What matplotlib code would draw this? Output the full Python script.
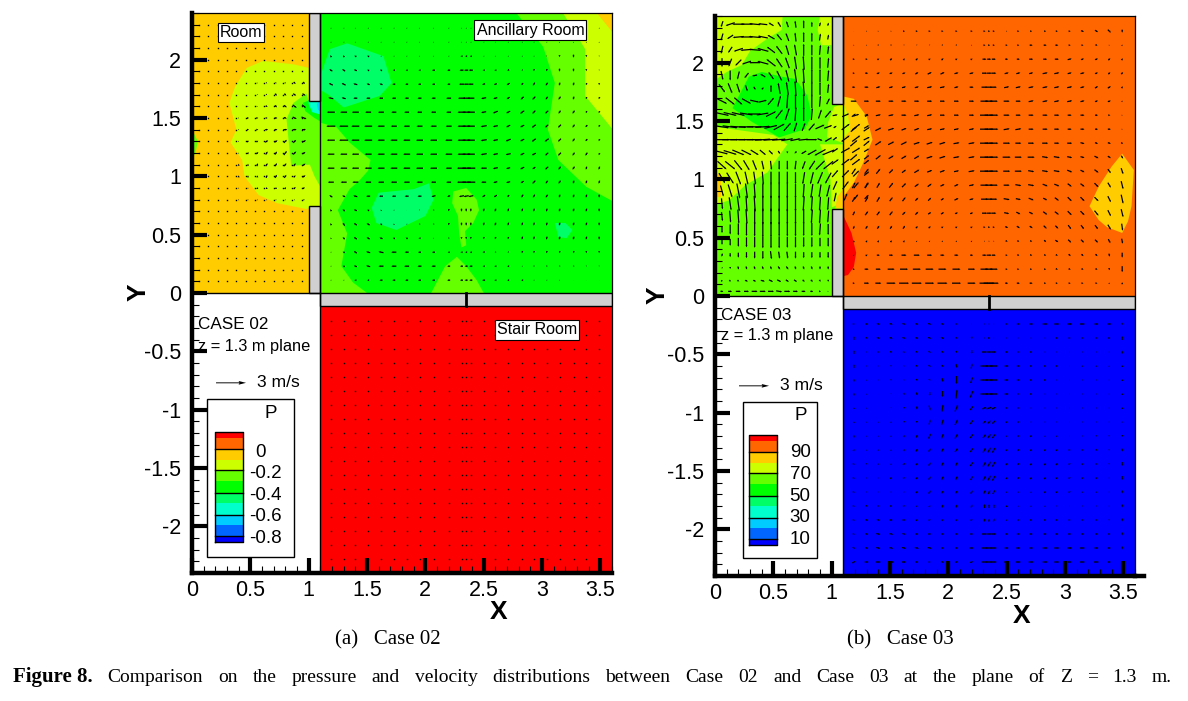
import matplotlib as mpl

mpl.use("Agg")
import matplotlib.pyplot as plt
import numpy as np

plt.rcParams['font.family'] = 'Liberation Sans'
plt.rcParams['axes.unicode_minus'] = False

# tecplot contour bands, low to high
bands = ['#0000ff', '#0066ff', '#00ccff', '#00ffcc', '#00ff66', '#00ff00',
         '#66ff00', '#ccff00', '#ffcc00', '#ff6600', '#ff0000']
band_edges = [-2.13, -2.085, -1.99, -1.90, -1.80, -1.71, -1.615, -1.52, -1.43, -1.335, -1.24, -1.195]

labels_02 = ['0', '-0.2', '-0.4', '-0.6', '-0.8']
labels_03 = ['90', '70', '50', '30', '10']

# velocity grids (arrows, 0.1 m/s units)
x_big = [1.19, 1.30, 1.40, 1.51, 1.62, 1.73, 1.84, 1.95, 2.07, 2.20, 2.31, 2.35, 2.39,
         2.50, 2.60, 2.71, 2.83, 2.93, 3.04, 3.15, 3.27, 3.38, 3.49]
y_anc = [2.27, 2.15, 2.03, 1.91, 1.79, 1.67, 1.55, 1.43, 1.31, 1.19, 1.07, 0.95, 0.83, 0.71, 0.59, 0.47, 0.35, 0.23, 0.11]
y_stair = [-0.24, -0.36, -0.48, -0.60, -0.72, -0.84, -0.96, -1.08, -1.20, -1.32, -1.44, -1.56, -1.68, -1.80, -1.92, -2.04, -2.16, -2.28]

anc02_u = [
    [-1, -1, -1, -1, -1, -1, -1, -1, -1, -1, -1, -1, -1, -1, -1, -1, -1, -1, -1, -1, -1, -1, -1],
    [-1, -1, -1, -1, -1, -1, -1, -1, -1, -1, -1, -1, -1, -1, -1, -1, -1, -1, -1, 0, 0, 0, 0],
    [-1, -1, -2, -2, -1, -1, -1, -1, -1, -1, -2, -2, -2, -1, -1, -1, -1, -1, 0, 0, 0, 0, 0],
    [-3, -3, -3, -2, -2, -2, -2, -2, -3, -3, -4, -4, -4, -2, -2, -2, -1, -1, -1, 0, 0, 0, 0],
    [-4, -4, -4, -3, -3, -3, -3, -3, -3, -3, -5, -5, -5, -3, -3, -3, -2, -2, -2, -1, -1, -1, 0],
    [-5, -4, -4, -4, -4, -4, -4, -4, -4, -5, -7, -7, -7, -5, -4, -3, -3, -3, -2, -2, -1, -1, -1],
    [-8, -7, -7, -6, -6, -5, -5, -5, -5, -5, -8, -8, -8, -5, -5, -4, -4, -3, -3, -2, -2, -1, -1],
    [-9, -9, -8, -8, -7, -6, -6, -6, -6, -6, -8, -8, -8, -6, -5, -4, -4, -4, -3, -3, -2, -2, -1],
    [-8, -9, -8, -8, -7, -7, -7, -7, -7, -7, -8, -8, -8, -6, -5, -5, -4, -4, -4, -3, -2, -2, -1],
    [-7, -7, -7, -7, -7, -7, -7, -7, -7, -7, -8, -8, -8, -6, -5, -5, -4, -4, -3, -3, -2, -2, -1],
    [-7, -7, -7, -7, -7, -7, -7, -7, -7, -6, -9, -9, -9, -6, -5, -4, -4, -3, -3, -2, -2, -1, -1],
    [-6, -6, -6, -6, -6, -6, -6, -6, -5, -5, -9, -9, -9, -5, -4, -4, -3, -3, -2, -2, -1, -1, -1],
    [-3, -3, -4, -4, -4, -4, -4, -4, -4, -3, -5, -5, -5, -3, -3, -2, -2, -2, -2, -1, -1, -1, 0],
    [-1, -2, -3, -2, -1, -1, 0, 0, -1, -1, 0, 0, 0, -1, -1, -1, -1, -1, -1, -1, -1, -1, 0],
    [-1, -2, -3, -3, -2, -1, -1, -1, -1, -1, 0, 0, 0, -1, -1, -1, -1, -1, -1, -1, -1, -1, 0],
    [-1, -2, -3, -3, -3, -2, -2, -2, -1, -1, 0, 0, 0, -1, -1, -1, -1, -1, -1, -1, -1, -1, 0],
    [-1, -2, -3, -4, -5, -5, -4, -3, -3, -2, -2, -2, -2, -2, -1, -1, -1, -1, -1, -1, -1, 0, 0],
    [-1, -2, -3, -4, -5, -5, -5, -4, -4, -3, -3, -3, -3, -2, -2, -2, -1, -1, -1, -1, -1, 0, 0],
    [-1, -1, -2, -2, -3, -3, -3, -3, -3, -3, -3, -3, -3, -3, -2, -2, -2, -1, -1, -1, 0, 0, 0],
]
anc02_v = [
    [0, 0, 0, 0, 0, 0, 0, 0, 0, 0, 0, 0, 0, 0, 0, 0, 0, 0, 0, 0, 0, 0, 0],
    [0, 0, 0, 0, 0, 0, 0, 0, 0, 0, 0, 0, 0, 0, 0, 0, 0, 0, 0, 1, 1, 1, 1],
    [2, 2, 1, 1, 0, 0, 0, 0, 0, 0, 0, 0, 0, 0, 0, 0, 0, 0, -1, -2, -3, -2, -1],
    [2, 2, 1, 1, 1, 0, 0, 0, 0, 0, 0, 0, 0, 0, 0, -1, -1, -2, -2, -3, -3, -2, -1],
    [2, 2, 1, 1, 1, 0, 0, 0, 0, 0, 0, 0, 0, -1, -1, -2, -2, -3, -3, -3, -3, -2, -2],
    [1, 1, 0, 0, 0, 0, 0, 0, 0, 0, 0, 0, 0, -1, -1, -2, -3, -3, -3, -3, -3, -2, -2],
    [0, 0, 0, 0, 0, 0, 0, 0, 0, 0, 0, 0, 0, -1, -2, -2, -3, -3, -3, -3, -3, -2, -2],
    [0, 0, 0, 0, 0, 0, 0, 0, 0, 0, 0, 0, 0, -1, -1, -2, -2, -3, -3, -3, -3, -2, -2],
    [0, 0, 0, 0, 0, 0, 0, 0, 0, 0, 0, 0, 0, -1, -1, -2, -2, -3, -3, -3, -3, -2, -2],
    [0, 0, 0, 0, 0, 0, 0, 0, 0, 0, 0, 0, 0, -1, -1, -1, -2, -2, -3, -3, -3, -3, -2],
    [0, 0, 0, 0, 0, 0, 0, 0, 0, 0, 0, 0, 0, 0, -1, -1, -2, -2, -3, -3, -3, -3, -3],
    [0, 0, 0, 0, 0, 0, 0, 0, 0, 0, 0, 0, 0, 0, -1, -1, -2, -3, -3, -3, -3, -3, -3],
    [2, 1, 1, 0, 0, 0, 0, 0, -1, -1, -1, -1, -1, -2, -2, -2, -3, -3, -3, -3, -3, -3, -3],
    [2, 2, 1, 1, 1, 0, 0, -1, -1, -2, -3, -3, -3, -3, -3, -3, -3, -3, -3, -3, -3, -3, -3],
    [2, 3, 2, 2, 1, 1, 0, -1, -1, -2, -3, -3, -3, -3, -3, -3, -3, -3, -3, -3, -3, -3, -3],
    [1, 2, 2, 2, 1, 1, 1, 0, 0, -1, -2, -2, -2, -2, -2, -2, -3, -3, -3, -3, -3, -3, -3],
    [0, 1, 2, 1, 1, 0, 0, 0, 0, 0, 0, 0, 0, -1, -1, -1, -2, -2, -2, -2, -2, -2, -2],
    [0, 1, 1, 1, 0, 0, 0, 0, 0, 0, 0, 0, 0, 0, 0, 0, 0, -1, -1, -1, -1, -1, -1],
    [0, 0, 0, 0, 0, 0, 0, 0, 0, 0, 0, 0, 0, 0, 0, 0, 0, 0, 0, 0, 0, 0, 0],
]

anc03_u = [
    [0, 1, 1, 1, 2, 2, 2, 2, 2, 2, 2, 2, 2, 1, 2, 2, 2, 2, 2, 3, 3, 3, 0],
    [1, 1, 1, 1, 0, 0, 0, 1, 1, 1, 2, 2, 2, 2, 2, 3, 3, 3, 2, 2, 2, 1, 1],
    [2, 2, 2, 2, 1, 2, 2, 2, 2, 2, 4, 4, 4, 3, 3, 4, 4, 4, 4, 3, 3, 2, 1],
    [2, 3, 3, 3, 3, 3, 4, 4, 4, 4, 5, 5, 5, 4, 4, 4, 5, 5, 4, 4, 3, 2, 2],
    [3, 4, 4, 4, 4, 4, 5, 5, 4, 4, 6, 6, 6, 5, 5, 5, 5, 5, 5, 4, 3, 3, 1],
    [6, 5, 5, 5, 5, 5, 5, 5, 5, 5, 8, 8, 8, 6, 5, 5, 5, 5, 5, 4, 3, 3, 1],
    [4, 3, 5, 5, 5, 5, 5, 5, 5, 5, 9, 9, 9, 6, 5, 5, 5, 5, 4, 4, 3, 2, 1],
    [6, 6, 6, 6, 5, 5, 5, 5, 5, 5, 9, 9, 9, 6, 6, 5, 5, 5, 4, 4, 3, 3, 1],
    [7, 6, 6, 6, 6, 6, 6, 6, 6, 6, 9, 9, 9, 7, 6, 6, 6, 5, 5, 4, 3, 3, 2],
    [7, 5, 5, 5, 5, 5, 6, 6, 6, 6, 9, 9, 9, 8, 7, 7, 6, 6, 5, 4, 4, 3, 2],
    [4, 4, 4, 4, 4, 5, 5, 5, 5, 6, 9, 9, 9, 7, 7, 6, 6, 6, 5, 4, 4, 3, 2],
    [3, 3, 3, 4, 4, 4, 4, 4, 4, 5, 8, 8, 8, 6, 6, 6, 5, 5, 4, 4, 4, 3, 2],
    [3, 3, 3, 3, 3, 3, 3, 3, 4, 4, 7, 7, 7, 6, 5, 5, 4, 4, 4, 4, 4, 3, 2],
    [2, 3, 3, 3, 3, 3, 3, 3, 3, 3, 5, 5, 5, 5, 4, 4, 4, 4, 4, 4, 4, 3, 2],
    [1, 2, 2, 2, 2, 2, 2, 2, 2, 2, 2, 2, 2, 3, 3, 3, 3, 3, 3, 3, 3, 3, 1],
    [0, 1, 1, 1, 1, 1, 1, 1, 1, 1, 1, 1, 1, 2, 2, 2, 2, 3, 3, 3, 3, 2, 1],
    [1, 2, 3, 4, 5, 6, 5, 4, 4, 3, 4, 5, 4, 2, 2, 2, 2, 2, 2, 2, 2, 1, 0],
    [2, 4, 5, 7, 8, 8, 8, 8, 8, 7, 8, 8, 8, 2, 2, 2, 2, 2, 2, 2, 2, 1, 0],
    [2, 5, 6, 9, 10, 10, 9, 10, 9, 8, 10, 11, 10, 3, 3, 3, 2, 2, 2, 2, 2, 1, 0],
]
anc03_v = [
    [0, 0, 0, 0, 0, 0, 0, 0, 0, 0, 0, 0, 0, 0, 0, 0, 0, 0, 0, -1, -2, -3, -3],
    [0, 0, -1, -1, -1, -1, -1, -1, -1, 0, 0, 0, 0, 0, 0, 0, 0, 0, 0, 0, -1, 0, 1],
    [0, 0, 1, 2, 2, 2, 1, 2, 1, 1, 0, 0, 0, 0, 0, 0, 0, 0, 1, 1, 1, 2, 2],
    [0, 0, 1, 1, 1, 2, 2, 2, 1, 1, 0, 0, 0, 1, 1, 1, 1, 1, 1, 1, 1, 2, 2],
    [0, 0, 1, 1, 1, 1, 1, 1, 1, 0, 0, 0, 0, 1, 1, 1, 1, 1, 1, 1, 2, 2, 2],
    [0, 0, 0, 0, 0, 0, 0, 0, 0, 0, 0, 0, 0, 0, 0, 1, 1, 1, 1, 1, 1, 1, 1],
    [3, 3, 1, 1, 0, 1, 1, 0, 0, 0, 0, 0, 0, 0, 0, 0, 0, 0, 0, 0, 0, 0, 0],
    [5, 4, 3, 2, 2, 2, 1, 1, 1, 1, 0, 0, 0, 1, 1, 0, 0, 0, 0, 0, 0, 0, 0],
    [6, 5, 4, 3, 3, 2, 2, 2, 1, 1, 0, 0, 0, 0, 0, 0, 0, 0, 0, -1, -1, -1, -1],
    [6, 4, 4, 3, 3, 3, 2, 2, 1, 1, 0, 0, 0, 0, 0, 0, -1, -1, -1, -1, -2, -2, -3],
    [6, 5, 5, 4, 3, 3, 2, 2, 1, 1, 0, 0, 0, 0, 0, -1, -1, -1, -2, -2, -3, -4, -6],
    [6, 6, 5, 5, 4, 3, 3, 2, 2, 1, 0, 0, 0, 0, -1, -1, -2, -2, -3, -3, -4, -5, -8],
    [5, 5, 5, 4, 4, 3, 3, 2, 2, 1, 0, 0, 0, -1, -1, -2, -2, -3, -4, -4, -4, -6, -9],
    [4, 4, 4, 4, 3, 3, 2, 2, 1, 1, 0, 0, 0, -1, -2, -2, -3, -3, -4, -4, -5, -6, -8],
    [3, 3, 3, 3, 3, 2, 2, 1, 1, 1, 0, 0, 0, -1, -2, -2, -3, -3, -4, -4, -4, -5, -7],
    [2, 2, 2, 2, 2, 1, 1, 1, 1, 1, 0, 0, 0, -1, -1, -1, -2, -2, -3, -3, -3, -4, -5],
    [1, 1, 0, 0, 0, 0, 0, 0, 0, 0, 0, 0, 0, 0, -1, -1, -1, -1, -2, -2, -2, -3, -5],
    [0, 0, 0, 0, 0, 0, 0, 0, 0, 0, 0, 0, 0, 0, 0, 0, 0, -1, -1, -1, -1, -2, -6],
    [0, 0, 0, 0, 0, 0, 0, 0, 0, 0, 0, 0, 0, 0, 0, 0, 0, 0, 0, 0, 0, 1, 2],
]

stair03_u = [
    [2, 3, 3, 3, 3, 3, 3, 3, 2, 1, 1, 1, 1, 2, 3, 4, 5, 5, 5, 5, 4, 4, 1],
    [0, 2, 3, 3, 3, 3, 3, 3, 2, 0, 1, 2, 1, 1, 1, 1, 1, 2, 2, 2, 2, 2, 0],
    [0, 1, 2, 2, 2, 2, 2, 2, 1, 0, 5, 5, 5, 3, 2, 2, 1, 1, 1, 1, 1, 1, 0],
    [0, 1, 1, 1, 1, 2, 2, 2, 1, 1, 8, 8, 8, 4, 3, 2, 2, 2, 1, 1, 1, 1, 0],
    [0, 0, 1, 1, 1, 1, 1, 1, 0, 2, 8, 8, 8, 4, 3, 2, 2, 1, 1, 1, 1, 1, 0],
    [0, 0, 0, 0, 1, 1, 0, 0, 1, 3, 8, 8, 8, 4, 2, 2, 1, 1, 1, 1, 1, 1, 0],
    [0, 0, 0, 0, 0, 0, 1, 1, 3, 3, 4, 5, 4, 2, 2, 1, 1, 1, 1, 1, 1, 1, 0],
    [0, 0, 0, 1, 0, 0, 1, 2, 3, 3, 3, 3, 3, 2, 2, 1, 1, 1, 1, 1, 1, 1, 1],
    [0, 0, 0, 1, 1, 1, 2, 2, 3, 3, 3, 3, 3, 1, 2, 2, 1, 1, 1, 1, 1, 1, 0],
    [1, 0, 1, 1, 1, 2, 2, 2, 3, 3, 3, 3, 3, 2, 2, 2, 2, 2, 2, 2, 2, 1, 1],
    [2, 1, 1, 1, 2, 2, 2, 2, 2, 3, 3, 3, 3, 2, 2, 2, 2, 2, 2, 2, 2, 1, 0],
    [2, 1, 1, 2, 2, 2, 2, 2, 2, 2, 3, 3, 3, 1, 2, 2, 2, 2, 2, 2, 2, 1, 0],
    [2, 1, 1, 1, 1, 2, 2, 2, 2, 2, 2, 2, 2, 1, 1, 1, 2, 2, 2, 1, 1, 1, 0],
    [2, 2, 2, 2, 2, 1, 1, 1, 1, 1, 0, 0, 0, 0, 0, 1, 1, 1, 1, 1, 1, 1, 0],
    [2, 3, 3, 3, 3, 2, 2, 2, 2, 2, 1, 1, 1, 1, 2, 2, 2, 2, 2, 2, 2, 1, 0],
    [2, 3, 4, 4, 3, 3, 3, 3, 3, 3, 5, 5, 5, 3, 3, 3, 3, 3, 3, 3, 3, 2, 0],
    [2, 3, 4, 4, 4, 4, 4, 3, 3, 4, 6, 7, 6, 4, 4, 4, 5, 5, 5, 5, 4, 3, 0],
    [3, 4, 5, 6, 4, 3, 2, 3, 3, 3, 6, 7, 6, 5, 5, 5, 5, 5, 4, 5, 5, 3, 1],
]
stair03_v = [
    [0, 0, -1, -1, -1, -1, -1, -1, 0, 0, 0, 0, 0, 0, 0, 0, 0, 0, 0, 0, 0, 0, -2],
    [4, -1, -1, -1, -1, -1, -1, -2, -1, -3, 0, 0, 0, 0, 0, 0, 0, 0, 0, 0, 0, 0, 4],
    [4, 0, 0, -1, -1, -1, -2, -2, -2, -4, 0, 0, 0, 0, 0, 0, 0, 0, 0, 0, 0, 0, 3],
    [4, 0, 0, -1, -1, -1, -2, -2, -4, 5, 0, 0, 0, 0, 0, 0, 0, 0, 0, 1, 1, 1, 2],
    [3, 1, 0, -1, -1, -2, -2, -4, -8, 6, 0, 0, 0, 0, 0, 0, 0, 0, 0, 0, 0, 0, 2],
    [3, 1, 0, -1, -2, -3, -4, -6, 9, 7, 0, 0, 0, 0, 0, 0, 0, 0, 0, 0, 0, 0, 2],
    [2, 1, 0, -1, -2, -3, -5, 7, 7, 4, 2, 2, 2, 0, 0, 0, 0, 0, 0, 0, 0, 0, 2],
    [2, 1, 1, 1, -2, -2, 5, 6, 6, 4, 3, 3, 3, 1, 1, 0, 0, 0, 0, 0, 0, 0, 1],
    [3, 1, 1, 1, 2, 3, 5, 5, 5, 4, 4, 4, 4, 1, 1, 1, 1, 1, 0, 0, -1, -1, -2],
    [2, 1, 1, 1, 2, 3, 3, 4, 4, 4, 5, 5, 5, 1, 2, 1, 1, 1, 0, 0, -1, -1, -3],
    [-1, -1, 1, 1, 2, 2, 3, 4, 4, 4, 5, 5, 5, 2, 2, 2, 2, 2, 1, 1, 0, -1, -4],
    [-1, 0, 0, 1, 1, 2, 3, 4, 4, 4, 5, 5, 5, 2, 2, 2, 2, 1, 1, 1, 1, 0, -4],
    [-1, 0, 0, 0, 1, 2, 3, 3, 3, 3, 4, 4, 4, 1, 1, 1, 1, 1, 1, 1, 1, 0, -3],
    [-1, -1, 0, 0, 1, 1, 2, 3, 3, 3, 4, 4, 4, 2, 1, 1, 1, 0, 0, 0, 0, 0, -3],
    [-1, -1, -1, 0, 0, 1, 1, 1, 1, 1, 3, 3, 3, 1, 1, 0, 0, 0, 0, 0, 0, -1, -3],
    [-1, -1, -1, -1, -1, 0, 0, 0, 0, 0, 0, 0, 0, 0, 0, 0, 0, 0, 0, 0, 0, 0, -3],
    [-2, -1, -1, -1, -1, -1, -1, 0, 0, 0, 0, 0, 0, 0, 0, 0, 0, 0, 0, 0, 0, 0, -3],
    [2, 0, 0, 0, 0, 0, 0, -1, 1, 1, 0, 0, 0, 0, 0, 0, 0, 0, 0, 0, 0, 0, 0],
]

x_room03 = [0.06, 0.13, 0.20, 0.27, 0.34, 0.41, 0.48, 0.55, 0.62, 0.69, 0.76, 0.83, 0.90, 0.97]
y_room03 = [2.33, 2.22, 2.11, 2.00, 1.89, 1.78, 1.67, 1.56, 1.45, 1.34, 1.23, 1.12, 1.01, 0.90, 0.79, 0.68, 0.57, 0.46, 0.35, 0.24, 0.13, 0.04]
room03_u = [
    [-2, -9, -12, -12, -11, -9, -5, -3, -2, -1, 0, 0, 1, 1],
    [-2, -6, -11, -12, -12, -10, -7, -5, -3, -1, 0, 0, 1, 1],
    [-2, -4, -9, -12, -12, -11, -8, -6, -3, -2, 0, 0, 1, 1],
    [0, -3, -6, -9, -11, -11, -9, -6, -4, -2, -1, 0, 0, 1],
    [2, 0, -2, -4, -5, -5, -5, -5, -3, -2, -1, 0, 0, 1],
    [6, 4, 3, 2, 2, 2, 0, -2, -2, -1, -1, 0, 0, 1],
    [10, 9, 8, 9, 9, 8, 6, 3, 1, 0, 0, 0, 1, 3],
    [14, 13, 13, 13, 13, 12, 10, 7, 4, 1, 0, 1, 3, 6],
    [14, 15, 16, 15, 15, 15, 13, 11, 7, 3, 3, 6, 9, 8],
    [15, 16, 16, 16, 16, 16, 15, 14, 12, 10, 10, 11, 5, -7],
    [12, 13, 12, 10, 8, 6, 4, 2, 0, -2, -5, -9, -11, -12],
    [9, 10, 8, 6, 4, 2, 1, 0, 0, -1, -3, -6, -9, -10],
    [6, 7, 5, 3, 2, 1, 0, 0, 0, 0, -2, -3, -5, -6],
    [3, 4, 3, 2, 1, 0, 0, 0, 0, 0, -1, -2, -2, -3],
    [1, 2, 2, 1, 1, 0, 0, 0, 0, 0, -1, -1, -1, -1],
    [1, 1, 1, 1, 0, 0, 0, 0, 0, 0, 0, -1, -1, -1],
    [0, 0, 0, 0, 0, 0, 0, 0, 0, 0, 0, 0, -1, 0],
    [0, 0, 0, 0, 0, 0, 0, 0, 0, 0, 0, 0, 0, 0],
    [-1, 0, 0, 0, 0, 0, 1, 1, 1, 0, 0, 0, 0, 0],
    [-1, 0, 1, 1, 1, 1, 1, 2, 2, 1, 1, 1, 0, 0],
    [2, 2, 2, 3, 3, 4, 4, 4, 3, 3, 2, 2, 1, 0],
    [3, 4, 5, 5, 6, 6, 6, 6, 6, 5, 4, 3, 2, 1],
]
room03_v = [
    [-6, -3, 0, 0, 1, 1, 3, 5, 6, 7, 8, 5, 4, 3],
    [-7, -4, -1, 0, 1, 2, 4, 6, 8, 9, 10, 9, 7, 5],
    [-8, -6, -3, -1, 1, 3, 6, 8, 10, 11, 12, 11, 10, 8],
    [-9, -8, -6, -3, 0, 3, 7, 9, 11, 13, 14, 13, 12, 10],
    [-9, -10, -8, -5, -1, 3, 7, 10, 12, 14, 15, 14, 13, 11],
    [-8, -10, -9, -6, -3, 2, 7, 11, 13, 15, 15, 14, 13, 9],
    [-5, -7, -7, -5, -2, 2, 7, 11, 14, 15, 15, 14, 11, 6],
    [-3, -3, -3, -2, 0, 2, 5, 9, 12, 14, 14, 12, 9, 7],
    [-2, -2, -1, 0, 0, 1, 3, 6, 8, 9, 8, 7, 4, 3],
    [0, 0, 0, 0, 0, 1, 1, 1, 2, 2, 1, 0, -2, -4],
    [-3, -4, -5, -5, -5, -5, -4, -3, -2, -2, -3, -5, -6, -5],
    [-8, -8, -10, -10, -10, -9, -9, -9, -9, -9, -8, -9, -9, -8],
    [-10, -11, -13, -13, -13, -13, -13, -13, -13, -12, -12, -12, -12, -11],
    [-11, -13, -15, -15, -15, -15, -15, -15, -15, -14, -14, -14, -13, -12],
    [-11, -13, -15, -16, -16, -16, -16, -16, -16, -15, -15, -15, -14, -13],
    [-9, -12, -14, -15, -16, -16, -16, -16, -15, -15, -15, -14, -14, -12],
    [-7, -10, -12, -13, -14, -15, -15, -14, -14, -14, -13, -13, -12, -11],
    [-5, -7, -9, -10, -11, -12, -12, -12, -11, -11, -10, -10, -9, -9],
    [-3, -4, -5, -6, -7, -8, -8, -7, -7, -7, -6, -6, -6, -6],
    [-1, -2, -3, -3, -3, -3, -3, -3, -3, -3, -3, -3, -3, -3],
    [0, -1, -1, -1, -1, -1, -2, -2, -2, -2, -2, -2, -2, -2],
    [0, 0, 0, 0, 0, 0, 0, -1, 0, 0, 0, 0, 0, 0],
]

x_door03 = [1.03, 1.12, 1.21, 1.30]
y_door03 = [1.55, 1.45, 1.35, 1.25, 1.15, 1.05, 0.95, 0.85]
door03_u = [[5, 7, 6, 4], [3, 8, 8, 5], [4, 8, 8, 6], [6, 9, 8, 5], [7, 8, 8, 5], [6, 7, 6, 5], [4, 6, 5, 4], [2, 3, 4, 4]]
door03_v = [[1, 3, 2, 0], [2, 6, 6, 3], [3, 6, 6, 3], [4, 5, 5, 3], [5, 6, 6, 4], [7, 7, 6, 4], [9, 8, 6, 5], [9, 7, 5, 4]]

x_door02 = [0.40, 0.48, 0.56, 0.64, 0.72, 0.80, 0.88, 0.96]
y_door02 = [1.8, 1.7, 1.6, 1.5, 1.4, 1.3, 1.2, 1.1, 1.0, 0.9, 0.8]
door02_u = [
    [0, 0, 1, 1, 1, 1, 2, 2], [0, 0, 0, 1, 2, 2, 3, 3], [0, 1, 1, 2, 2, 3, 4, 4],
    [1, 2, 2, 2, 3, 3, 4, 5], [1, 2, 2, 3, 3, 4, 4, 4], [1, 2, 2, 3, 3, 3, 3, 4],
    [0, 1, 2, 2, 2, 3, 3, 3], [0, 0, 1, 2, 2, 2, 2, 3], [0, 0, 0, 1, 2, 2, 2, 3],
    [0, 0, 0, 0, 0, 1, 2, 2], [0, 0, 0, 0, 0, 0, 0, 1],
]
door02_v = [
    [0, 0, 0, -1, -1, -1, -2, -2], [0, 0, -1, -1, -2, -2, -2, -2], [0, 0, 0, -1, -2, -2, -3, -3],
    [0, 0, 0, 0, 0, -1, -2, -2], [0, 0, 0, 0, 0, 0, 0, 0], [0, 1, 1, 2, 2, 3, 3, 2],
    [1, 2, 2, 3, 3, 4, 3, 2], [2, 2, 3, 3, 3, 3, 3, 2], [2, 2, 2, 3, 3, 3, 2, 2],
    [1, 1, 2, 2, 2, 2, 2, 1], [1, 1, 1, 1, 1, 1, 1, 1],
]

# near-still points in the room of case 02
x_dots = [0.06, 0.14, 0.22, 0.30, 0.38, 0.46, 0.54, 0.62, 0.70, 0.78, 0.86, 0.94]
y_dots = [2.3, 2.2, 2.1, 2.0, 1.9, 1.8, 1.7, 1.6, 1.5, 1.4, 1.3, 1.2, 1.1, 1.0, 0.9, 0.8, 0.7, 0.6, 0.5, 0.4, 0.3, 0.2, 0.1]

# contour outlines (x, y)
room02_regions = [
    ('#ccff00', [(1.0, 1.93), (0.87, 1.96), (0.61, 1.99), (0.47, 1.93), (0.37, 1.77), (0.32, 1.63), (0.38, 1.40), (0.33, 1.29), (0.43, 1.14), (0.45, 1.0), (0.57, 0.84), (0.73, 0.77), (0.98, 0.72), (1.1, 0.75), (1.1, 1.65), (1.0, 1.65)]),
    ('#66ff00', [(0.98, 1.71), (0.87, 1.63), (0.81, 1.49), (0.83, 1.29), (0.85, 1.09), (1.01, 1.10), (1.05, 1.0), (1.1, 0.91), (1.1, 1.65), (1.0, 1.65)]),
    ('#66ff00', [(0, 1.4), (0.05, 1.3), (0.03, 1.2), (0, 1.15)]),
    ('#00ff00', [(0.95, 1.63), (0.97, 1.56), (1.05, 1.5), (1.1, 1.47), (1.1, 1.65), (1.0, 1.65)]),
    ('#00ffcc', [(1.0, 1.62), (1.03, 1.55), (1.1, 1.53), (1.1, 1.65), (1.0, 1.65)]),
    ('#00ccff', [(1.07, 1.62), (1.08, 1.57), (1.1, 1.56), (1.1, 1.66)]),
]
anc02_regions = [
    ('#66ff00', [(1.1, 1.46), (1.24, 1.42), (1.35, 1.29), (1.53, 1.14), (1.51, 1.05), (1.44, 0.97), (1.35, 0.89), (1.25, 0.71), (1.33, 0.51), (1.28, 0.23), (1.38, 0.09), (1.5, 0), (1.1, 0)]),
    ('#66ff00', [(2.05, 0), (2.17, 0.23), (2.27, 0.31), (2.35, 0.23), (2.44, 0.11), (2.5, 0)]),
    ('#66ff00', [(2.24, 0.87), (2.35, 0.9), (2.44, 0.8), (2.46, 0.71), (2.41, 0.6), (2.34, 0.53), (2.35, 0.41), (2.31, 0.39), (2.29, 0.51), (2.28, 0.66), (2.23, 0.77)]),
    ('#66ff00', [(2.78, 2.4), (3.01, 2.11), (3.11, 1.8), (3.05, 1.4), (3.14, 1.14), (3.38, 0.91), (3.6, 0.79), (3.6, 2.4)]),
    ('#ccff00', [(3.18, 2.4), (3.37, 2.09), (3.37, 1.69), (3.6, 1.41), (3.6, 2.4)]),
    ('#ffcc00', [(3.47, 2.4), (3.6, 2.24), (3.6, 2.4)]),
    ('#00ff66', [(1.1, 1.86), (1.18, 2.09), (1.33, 2.14), (1.64, 2.03), (1.71, 1.8), (1.61, 1.69), (1.3, 1.59), (1.17, 1.7), (1.1, 1.74)]),
    ('#00ff66', [(1.54, 0.73), (1.6, 0.86), (1.9, 0.89), (2.03, 0.94), (2.07, 0.8), (2.0, 0.66), (1.75, 0.54), (1.58, 0.6)]),
    ('#00ff66', [(3.11, 0.6), (3.2, 0.6), (3.26, 0.54), (3.21, 0.47), (3.14, 0.48)]),
]
room03_regions = [
    ('#ccff00', [(0, 2.4), (0.58, 2.4), (0.57, 2.28), (0.44, 2.2), (0.30, 2.1), (0.23, 1.98), (0.1, 1.92), (0, 1.85)]),
    ('#ccff00', [(0.9, 2.4), (1.0, 2.4), (1.0, 2.15), (0.91, 2.15), (0.88, 2.28)]),
    ('#ccff00', [(0, 0.78), (0.12, 0.82), (0.26, 0.95), (0.45, 1.06), (0.57, 1.23), (0.62, 1.30), (0.5, 1.38), (0, 1.45)]),
    ('#ccff00', [(0.9, 1.3), (1.1, 1.3), (1.1, 0.8), (1.0, 0.76), (0.99, 1.0)]),
    ('#00ff00', [(0.29, 1.88), (0.40, 1.92), (0.57, 1.88), (0.69, 1.86), (0.79, 1.72), (0.83, 1.55), (0.77, 1.43), (0.55, 1.36), (0.32, 1.49), (0.15, 1.61)]),
    ('#ccff00', [(1.1, 1.65), (1.02, 1.62), (0.97, 1.49), (0.96, 1.36), (1.1, 1.31)]),
    ('#ffcc00', [(0, 1.05), (0.05, 1.05), (0.05, 0.85), (0, 0.85)]),
    ('#ffcc00', [(1.03, 0.75), (1.1, 0.75), (1.1, 0.92), (1.05, 0.85)]),
]
anc03_regions = [
    ('#ffcc00', [(1.1, 1.71), (1.19, 1.69), (1.30, 1.54), (1.35, 1.34), (1.27, 1.14), (1.19, 0.97), (1.1, 0.85)]),
    ('#ccff00', [(1.1, 1.65), (1.14, 1.55), (1.16, 1.42), (1.1, 1.35)]),
    ('#ffcc00', [(3.49, 1.22), (3.59, 1.08), (3.57, 0.77), (3.54, 0.64), (3.49, 0.54), (3.36, 0.59), (3.29, 0.65), (3.21, 0.77), (3.29, 0.94), (3.4, 1.11)]),
    ('#ff0000', [(1.1, 0.69), (1.17, 0.54), (1.21, 0.37), (1.19, 0.25), (1.14, 0.18), (1.1, 0.17)]),
]

W, H = 1188, 701
fig = plt.figure(figsize=(W / 100, H / 100), dpi=100)


def arrows(ax, xs, ys, u, v):
    xx, yy = np.meshgrid(xs, ys)
    ax.quiver(xx, yy, np.array(u) * 0.1, np.array(v) * 0.1, angles='xy', scale_units='xy', scale=11.67,
              units='xy', width=0.0105, headwidth=1.6, headlength=1.6, headaxislength=1.6,
              minlength=0.2, pivot='mid', color='black', zorder=3)


def panel(left, top, room_color, anc_color, stair_color, room_regions, anc_regions, case_text, text_y,
          box, bar, bar_labels, zero_shift, label_ys, p_pos, xlabel_pos, ylabel_pos):
    ax = fig.add_axes([left / W, 1 - (top + 560) / H, 420 / W, 560 / H])
    ax.set_xlim(0, 3.6)
    ax.set_ylim(-2.4, 2.4)
    ax.fill([0, 1.1, 1.1, 0], [0, 0, 2.4, 2.4], color=room_color, lw=0, zorder=1)
    ax.fill([1.1, 3.6, 3.6, 1.1], [0, 0, 2.4, 2.4], color=anc_color, lw=0, zorder=1)
    ax.fill([1.1, 3.6, 3.6, 1.1], [-2.4, -2.4, 0, 0], color=stair_color, lw=0, zorder=1)
    for col, pts in room_regions + anc_regions:
        ax.fill([p[0] for p in pts], [p[1] for p in pts], color=col, lw=0, zorder=2)

    # walls
    wall = dict(facecolor='#d0d0d0', edgecolor='black', lw=1, zorder=4)
    ax.fill([1.0, 1.1, 1.1, 1.0], [1.65, 1.65, 2.4, 2.4], **wall)
    ax.fill([1.0, 1.1, 1.1, 1.0], [0, 0, 0.75, 0.75], **wall)
    ax.fill([1.1, 3.6, 3.6, 1.1], [-0.11, -0.11, 0, 0], **wall)
    ax.plot([2.35, 2.35], [-0.11, 0], color='black', lw=2, zorder=5)
    ax.plot([1.1, 1.1], [-2.4, 2.4], color='black', lw=1, zorder=5)
    ax.plot([0, 1.1], [0, 0], color='black', lw=1, zorder=5)

    # legend box
    ax.fill([box[0], box[1], box[1], box[0]], [box[2], box[2], box[3], box[3]], facecolor='white',
            edgecolor='black', lw=1, zorder=6)
    for i, col in enumerate(bands):
        ax.fill([bar[0], bar[1], bar[1], bar[0]], [band_edges[i], band_edges[i], band_edges[i + 1], band_edges[i + 1]],
                color=col, lw=0, zorder=7)
    ax.plot([bar[0], bar[1], bar[1], bar[0], bar[0]],
            [band_edges[0], band_edges[0], band_edges[-1], band_edges[-1], band_edges[0]], color='black', lw=1, zorder=8)
    for e in band_edges[1:-1:2]:
        ax.plot([bar[0], bar[1]], [e, e], color='black', lw=1, zorder=8)
    for lab, ly, sh in zip(bar_labels, label_ys, zero_shift):
        ax.text(sh, ly, lab, fontsize=13.5, ha='center', va='center', zorder=8)
    ax.text(p_pos[0], p_pos[1], 'P', fontsize=13.5, ha='center', va='center', zorder=8)

    ax.text(0.05, text_y[0], case_text, fontsize=12.3, va='center', zorder=6)
    ax.text(0.05, text_y[1], 'z = 1.3 m plane', fontsize=11.8, va='center', zorder=6)
    ax.quiver([0.206], [-0.77], [3.0], [0.0], angles='xy', scale_units='xy', scale=11.67, units='xy', width=0.008,
              headwidth=4, headlength=8, headaxislength=7, color='black', zorder=6)
    ax.text(0.557, -0.765, '3 m/s', fontsize=12.6, va='center', zorder=6)

    ax.set_xticks(np.arange(0, 3.6, 0.5))
    ax.set_xticklabels(['0', '0.5', '1', '1.5', '2', '2.5', '3', '3.5'])
    ax.set_yticks(np.arange(-2, 2.1, 0.5))
    ax.set_yticklabels(['-2', '-1.5', '-1', '-0.5', '0', '0.5', '1', '1.5', '2'])
    ax.set_xticks(np.arange(0, 3.61, 0.1), minor=True)
    ax.set_yticks(np.arange(-2.4, 2.41, 0.1), minor=True)
    ax.tick_params(which='major', direction='in', length=11, width=3, labelsize=15.5, pad=8)
    ax.tick_params(axis='x', which='major', pad=5)
    ax.tick_params(which='minor', direction='in', length=5, width=0.8)
    ax.set_axisbelow(False)
    for s in ax.spines.values():
        s.set_linewidth(0.9)
        s.set_zorder(9)
    ax.spines['left'].set_linewidth(3.2)
    ax.spines['bottom'].set_linewidth(3.2)
    ax.set_xlabel('X', fontsize=19, fontweight='bold')
    ax.set_ylabel('Y', fontsize=19, fontweight='bold')
    ax.xaxis.set_label_coords(*xlabel_pos)
    ax.yaxis.set_label_coords(*ylabel_pos)
    return ax


def tag(ax, x, y, s):
    ax.text(x, y, s, fontsize=11.5, ha='center', va='center', zorder=10,
            bbox=dict(facecolor='white', edgecolor='black', lw=0.8, pad=1.5))


ax1 = panel(192, 13, '#ffcc00', '#00ff00', '#ff0000', room02_regions, anc02_regions, 'CASE 02', (-0.274, -0.46),
            (0.13, 0.875, -2.26, -0.91), (0.197, 0.433), labels_02, (0.59, 0.627, 0.627, 0.627, 0.627),
            (-1.365, -1.55, -1.74, -1.917, -2.108), (0.677, -1.037), (0.731, -0.048), (-0.098, 0.502))
ax1.plot(*np.meshgrid(x_dots, y_dots), 's', color='black', ms=1.0, mew=0, zorder=3)
arrows(ax1, x_door02, y_door02, door02_u, door02_v)
arrows(ax1, x_big, y_anc, anc02_u, anc02_v)
ax1.plot(*np.meshgrid(x_big, y_stair), 's', color='black', ms=1.0, mew=0, zorder=3)
tag(ax1, 0.42, 2.236, 'Room')
tag(ax1, 2.90, 2.254, 'Ancillary Room')
tag(ax1, 2.96, -0.317, 'Stair Room')

ax2 = panel(715, 16, '#66ff00', '#ff6600', '#0000ff', room03_regions, anc03_regions, 'CASE 03', (-0.163, -0.34),
            (0.24, 0.874, -2.245, -0.91), (0.29, 0.53), labels_03, (0.73, 0.73, 0.73, 0.73, 0.73),
            (-1.345, -1.53, -1.72, -1.90, -2.09), (0.737, -1.026), (0.729, -0.05), (-0.107, 0.502))
arrows(ax2, x_room03, y_room03, room03_u, room03_v)
arrows(ax2, x_door03, y_door03, door03_u, door03_v)
arrows(ax2, x_big, y_anc, anc03_u, anc03_v)
arrows(ax2, x_big, y_stair, stair03_u, stair03_v)
ax2.plot([3.6, 3.68], [-2.4, -2.4], color='black', lw=3.2, clip_on=False, zorder=9)

serif = 'Liberation Serif'
fig.text(388 / W, 1 - 640 / H, '(a)   Case 02', family=serif, fontsize=15, ha='center', va='center')
fig.text(900 / W, 1 - 640 / H, '(b)   Case 03', family=serif, fontsize=15, ha='center', va='center')

# caption, spread word by word to the full width like the journal layout
caption = 'Comparison on the pressure and velocity distributions between Case 02 and Case 03 at the plane of Z = 1.3 m.'
renderer = fig.canvas.get_renderer()
items = [fig.text(13 / W, 1 - 677 / H, 'Figure 8.', family=serif, fontsize=15, fontweight='bold', va='center')]
items += [fig.text(0, 1 - 677 / H, w, family=serif, fontsize=14, va='center') for w in caption.split()]
widths = [t.get_window_extent(renderer).width for t in items]
gap = (1172 - 13 - sum(widths)) / (len(items) - 1)
x = 13
for t, w in zip(items, widths):
    t.set_x(x / W)
    x += w + gap

fig.savefig('out.png', dpi=100)
